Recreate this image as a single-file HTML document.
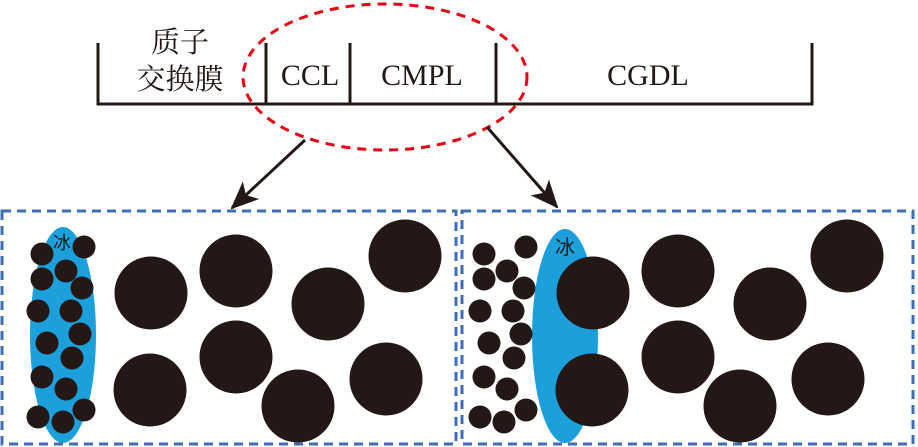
<!DOCTYPE html>
<html><head><meta charset="utf-8"><style>
body{margin:0;background:#fff}
svg{display:block}
.t{font-family:"Liberation Serif","Noto Serif CJK SC",serif;fill:#231815}
.c{font-family:"Liberation Sans","Noto Sans CJK SC",sans-serif;fill:#231815}
</style></head><body>
<svg width="918" height="447" viewBox="0 0 918 447" xmlns="http://www.w3.org/2000/svg">
<defs><marker id="ah" markerWidth="10" markerHeight="10" refX="9" refY="5" orient="auto" markerUnits="userSpaceOnUse" viewBox="0 0 10 10"><path d="M0,0 L10,5 L0,10 L3,5 Z" fill="#231815"/></marker>
<marker id="ah2" markerWidth="28" markerHeight="28" refX="26" refY="14" orient="auto" markerUnits="userSpaceOnUse" viewBox="0 0 28 28"><path d="M0,2 L28,14 L0,26 L7,14 Z" fill="#231815"/></marker></defs>
<g stroke="#231815" stroke-width="3" fill="none">
<path d="M98,43 V104 H812 V43"/>
<path d="M266,43 V104 M350,43 V104 M496,43 V104"/>
</g>
<ellipse cx="385" cy="77" rx="142" ry="73" fill="none" stroke="#e60012" stroke-width="3" stroke-dasharray="9,7"/>
<g stroke="#231815" stroke-width="3">
<line x1="305" y1="140" x2="232" y2="208" marker-end="url(#ah2)"/>
<line x1="487" y1="127" x2="557" y2="207" marker-end="url(#ah2)"/>
</g>
<text class="t" x="180" y="52" font-size="29" text-anchor="middle">质子</text>
<text class="t" x="180" y="89" font-size="29" text-anchor="middle">交换膜</text>
<text class="t" x="310" y="85" font-size="30" text-anchor="middle">CCL</text>
<text class="t" x="422" y="85" font-size="30" text-anchor="middle">CMPL</text>
<text class="t" x="648" y="85" font-size="30" text-anchor="middle">CGDL</text>
<g fill="none" stroke="#3e6db5" stroke-width="3" stroke-dasharray="9,6">
<rect x="2" y="211" width="454" height="233"/>
<rect x="462" y="211" width="451" height="233"/>
</g>
<g fill="#1ca0dc">
<ellipse cx="63" cy="335" rx="33" ry="108"/>
<ellipse cx="565" cy="336" rx="33" ry="107"/>
</g>
<g fill="#231815">
<circle cx="42" cy="254" r="11.5"/><circle cx="84" cy="247" r="11.5"/><circle cx="66" cy="271" r="11.5"/><circle cx="42" cy="279" r="11.5"/><circle cx="82" cy="288" r="11.5"/><circle cx="38" cy="311" r="11.5"/><circle cx="71" cy="311" r="11.5"/><circle cx="80" cy="334" r="11.5"/><circle cx="47" cy="343" r="11.5"/><circle cx="72" cy="358" r="11.5"/><circle cx="42" cy="377" r="11.5"/><circle cx="66" cy="389" r="11.5"/><circle cx="84" cy="410" r="11.5"/><circle cx="38" cy="417" r="11.5"/><circle cx="63" cy="422" r="11.5"/>
<circle cx="151" cy="293" r="36.5"/><circle cx="236" cy="271" r="36.5"/><circle cx="328" cy="304" r="36.5"/><circle cx="405" cy="256" r="36.5"/><circle cx="150" cy="390" r="36.5"/><circle cx="236" cy="357" r="36.5"/><circle cx="298" cy="406" r="36.5"/><circle cx="386" cy="379" r="36.5"/>
<circle cx="484" cy="254" r="11.5"/><circle cx="526" cy="247" r="11.5"/><circle cx="507" cy="271" r="11.5"/><circle cx="484" cy="279" r="11.5"/><circle cx="524" cy="288" r="11.5"/><circle cx="480" cy="311" r="11.5"/><circle cx="513" cy="311" r="11.5"/><circle cx="521" cy="334" r="11.5"/><circle cx="489" cy="343" r="11.5"/><circle cx="514" cy="358" r="11.5"/><circle cx="484" cy="377" r="11.5"/><circle cx="507" cy="389" r="11.5"/><circle cx="526" cy="410" r="11.5"/><circle cx="480" cy="417" r="11.5"/><circle cx="504" cy="422" r="11.5"/>
<circle cx="593" cy="293" r="36.5"/><circle cx="678" cy="271" r="36.5"/><circle cx="770" cy="304" r="36.5"/><circle cx="847" cy="256" r="36.5"/><circle cx="592" cy="390" r="36.5"/><circle cx="678" cy="357" r="36.5"/><circle cx="740" cy="406" r="36.5"/><circle cx="828" cy="379" r="36.5"/>
</g>
<text class="c" x="62" y="249" font-size="18" text-anchor="middle">冰</text>
<text class="c" x="565" y="254" font-size="20" text-anchor="middle">冰</text>
</svg>
</body></html>
